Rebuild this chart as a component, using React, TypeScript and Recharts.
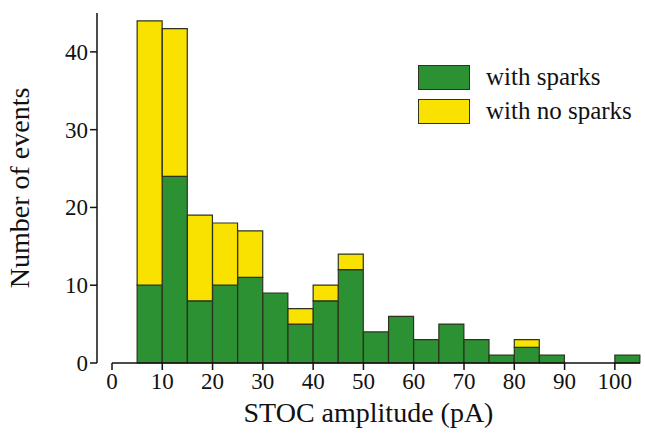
import { Bar, BarChart, ReferenceLine, XAxis, YAxis } from "recharts";

// bin centres (pA), 5 pA wide bins from 5 to 105
const binCenters = [7.5, 12.5, 17.5, 22.5, 27.5, 32.5, 37.5, 42.5, 47.5, 52.5, 57.5, 62.5, 67.5, 72.5, 77.5, 82.5, 87.5, 92.5, 97.5, 102.5];
const withSparks = [10, 24, 8, 10, 11, 9, 5, 8, 12, 4, 6, 3, 5, 3, 1, 2, 1, 0, 0, 1];
const withNoSparks = [34, 19, 11, 8, 6, 0, 2, 2, 2, 0, 0, 0, 0, 0, 0, 1, 0, 0, 0, 0];
const xTicks = [0, 10, 20, 30, 40, 50, 60, 70, 80, 90, 100];
const yTicks = [0, 10, 20, 30, 40];

const data = binCenters.map((x, i) => ({
  x,
  sparks: withSparks[i],
  noSparks: withNoSparks[i],
}));

const font = "Liberation Serif, Times New Roman, serif";
const green = "#2b9132";
const yellow = "#f9e100";
const edge = "#2e3320";

function XTick(props: any) {
  const { x, y, payload } = props;
  return (
    <text x={x} y={y} dy={18} textAnchor="middle" fontSize={23} fontFamily={font} fill="#111">
      {payload.value}
    </text>
  );
}

function YTick(props: any) {
  const { x, y, payload } = props;
  return (
    <text x={x} y={y} dy={8} textAnchor="end" fontSize={23} fontFamily={font} fill="#111">
      {payload.value}
    </text>
  );
}

function LegendBox() {
  const items = [
    { label: "with sparks", color: green },
    { label: "with no sparks", color: yellow },
  ];
  return (
    <div style={{ position: "absolute", left: 418, top: 60, fontFamily: font, fontSize: 25, color: "#111" }}>
      {items.map((it) => (
        <div key={it.label} style={{ display: "flex", alignItems: "center", height: 34 }}>
          <div style={{ width: 50, height: 23, background: it.color, border: `1px solid ${edge}`, marginRight: 16 }} />
          <span>{it.label}</span>
        </div>
      ))}
    </div>
  );
}

export default function App() {
  return (
    <div style={{ position: "absolute", left: 0, top: 0, width: 645, height: 445, background: "#fff" }}>
      <BarChart
        width={645}
        height={445}
        data={data}
        margin={{ top: 13, right: 5, bottom: 0, left: 37 }}
        barCategoryGap={0}
        barGap={0}
      >
        <XAxis
          dataKey="x"
          type="number"
          domain={[0, 105]}
          ticks={xTicks}
          padding={{ left: 15, right: 0 }}
          axisLine={false}
          tickSize={7}
          tickMargin={1}
          tickLine={{ stroke: "#111", strokeWidth: 1.5 }}
          tick={<XTick />}
          interval={0}
          label={{ value: "STOC amplitude (pA)", position: "insideBottom", offset: 23, style: { fontSize: 28, fill: "#111", fontFamily: font } }}
          height={82}
        />
        <YAxis
          type="number"
          domain={[0, 45]}
          ticks={yTicks}
          width={60}
          tickSize={7}
          tickMargin={2}
          axisLine={{ stroke: "#111", strokeWidth: 1.5 }}
          tickLine={{ stroke: "#111", strokeWidth: 1.5 }}
          tick={<YTick />}
          label={{ value: "Number of events", angle: -90, position: "insideLeft", offset: -18, style: { fontSize: 28, fill: "#111", fontFamily: font, textAnchor: "middle" } }}
        />
        <Bar dataKey="sparks" stackId="a" fill={green} stroke={edge} strokeWidth={1.2} isAnimationActive={false} />
        <Bar dataKey="noSparks" stackId="a" fill={yellow} stroke={edge} strokeWidth={1.2} isAnimationActive={false} />
        <ReferenceLine
          segment={[{ x: 0, y: 0 }, { x: 105, y: 0 }]}
          stroke="#111"
          strokeWidth={1.5}
          ifOverflow="visible"
        />
      </BarChart>
      <LegendBox />
    </div>
  );
}
